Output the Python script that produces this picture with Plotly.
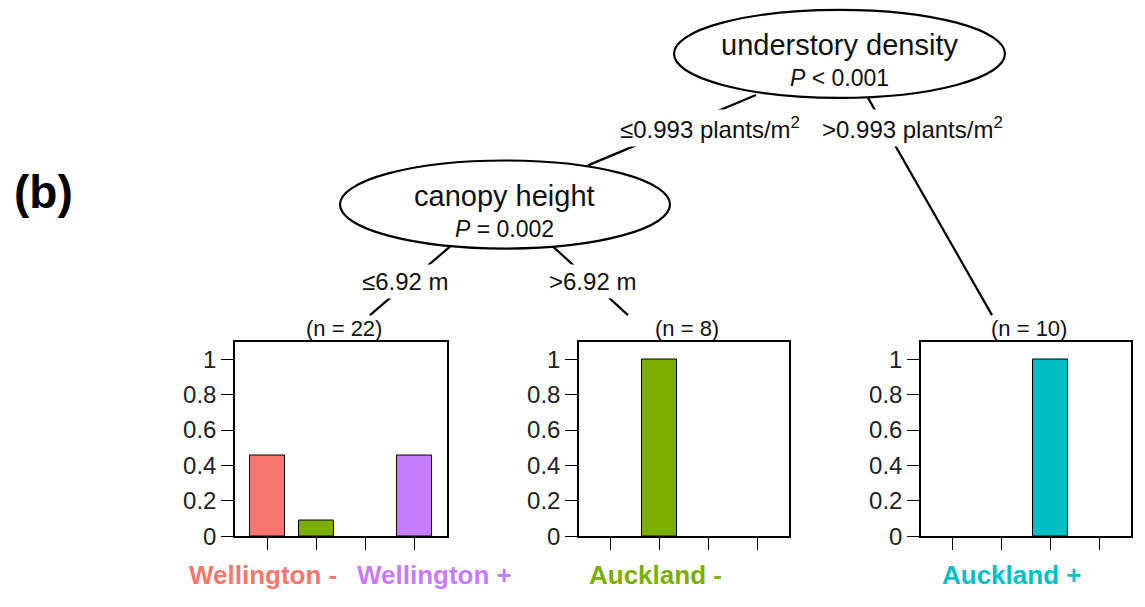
import plotly.graph_objects as go

# ---- data -----------------------------------------------------------------
categories = ["Wellington -", "Auckland -", "Auckland +", "Wellington +"]
cat_colors = ["#F8766D", "#7CAE00", "#00BFC4", "#C77CFF"]

node_n = [22, 8, 10]
node_props = [
    [0.455, 0.091, 0.0, 0.455],   # understory <= 0.993, canopy <= 6.92 m
    [0.0, 1.0, 0.0, 0.0],         # understory <= 0.993, canopy > 6.92 m
    [0.0, 0.0, 1.0, 0.0],         # understory > 0.993
]
y_ticks = [0, 0.2, 0.4, 0.6, 0.8, 1]
y_ticktext = ["0", "0.2", "0.4", "0.6", "0.8", "1"]

split_nodes = [
    ("understory density", "<i>P</i> &lt; 0.001"),
    ("canopy height", "<i>P</i> = 0.002"),
]
edge_labels = ["\u22640.993 plants/m<sup>2</sup>", ">0.993 plants/m<sup>2</sup>",
               "\u22646.92 m", ">6.92 m"]

# ---- page geometry (pixels) ----------------------------------------------
W, H = 1145, 607
FONT = "Liberation Sans, Arial, sans-serif"


def px(x):
    return x / W


def py(y):
    return 1 - y / H


panel_x = [(235, 447), (579, 789), (921, 1131)]
panel_y = (349, 548)

fig = go.Figure()
layout_axes = {}
for i, (props, (x0, x1)) in enumerate(zip(node_props, panel_x), start=1):
    sfx = "" if i == 1 else str(i)
    fig.add_trace(go.Bar(
        x=[1, 2, 3, 4], y=props, width=0.71,
        marker=dict(color=cat_colors,
                    line=dict(color="black", width=[1 if v > 0 else 0 for v in props])),
        xaxis="x" + sfx, yaxis="y" + sfx, showlegend=False,
        hovertext=categories, hoverinfo="text+y",
    ))
    layout_axes["xaxis" + sfx] = dict(
        domain=[px(x0), px(x1)], range=[0.35, 4.65], anchor="y" + sfx,
        showline=True, mirror=True, linecolor="black", linewidth=1.5,
        ticks="outside", ticklen=12, tickwidth=1.3, tickcolor="black",
        tickvals=[1, 2, 3, 4], showticklabels=False,
        showgrid=False, zeroline=False, fixedrange=True,
    )
    layout_axes["yaxis" + sfx] = dict(
        domain=[py(panel_y[1]), py(panel_y[0])], range=[0, 1.1], anchor="x" + sfx,
        showline=True, mirror=True, linecolor="black", linewidth=1.5,
        ticks="outside", ticklen=12, tickwidth=1.3, tickcolor="black",
        tickvals=y_ticks, ticktext=y_ticktext,
        tickfont=dict(family=FONT, size=24, color="#222"),
        showgrid=False, zeroline=False, fixedrange=True,
    )

# ---- tree edges and nodes -------------------------------------------------
shapes = []
edges = [((756, 97), (588, 169)), ((868, 100), (992, 322)),
         ((450, 252), (370, 322)), ((553, 252), (628, 322))]
for (xa, ya), (xb, yb) in edges:
    shapes.append(dict(type="line", xref="paper", yref="paper",
                       x0=px(xa), y0=py(ya), x1=px(xb), y1=py(yb),
                       line=dict(color="black", width=2.2)))

ellipses = [(839.5, 55, 165.5, 45), (505, 209, 165, 45)]
for cx, cy, rx, ry in ellipses:
    shapes.append(dict(type="circle", xref="paper", yref="paper",
                       x0=px(cx - rx), x1=px(cx + rx), y0=py(cy + ry), y1=py(cy - ry),
                       fillcolor="white", line=dict(color="black", width=2.2)))

annotations = []


def note(text, x, y, size, color="#111", bold=False, bg=None, pad=1):
    if bold:
        text = "<b>" + text + "</b>"
    annotations.append(dict(
        text=text, x=px(x), y=py(y), xref="paper", yref="paper",
        xanchor="center", yanchor="middle", showarrow=False,
        font=dict(family=FONT, size=size, color=color),
        bgcolor=bg, borderpad=pad,
    ))


# split node texts
for (title, pval), (cx, cy, rx, ry) in zip(split_nodes, ellipses):
    note(title, cx, cy - 9, 29)
    note(pval, cx, cy + 25, 23)

# edge labels with white backing that breaks the edge lines
edge_pos = [(710, 131), (913, 131), (405, 288), (592, 288)]
for lab, (x, y) in zip(edge_labels, edge_pos):
    note(lab, x, y, 24, bg="white", pad=3)

# terminal node sizes
for n, (x0, x1) in zip(node_n, panel_x):
    note(f"(n = {n})", (x0 + x1) / 2 + 3, 336, 22)

# colour key beneath the panels
key_pos = [(263, 588), (655, 588), (1011, 588), (434, 588)]
for cat, col, (x, y) in zip(categories, cat_colors, key_pos):
    note(cat, x, y, 26, color=col, bold=True)

note("(b)", 43, 196, 46, color="black", bold=True)

fig.update_layout(
    width=W, height=H, margin=dict(l=0, r=0, t=0, b=0),
    paper_bgcolor="white", plot_bgcolor="white",
    shapes=shapes, annotations=annotations, bargap=0,
    **layout_axes,
)

fig.write_html("out.html")
